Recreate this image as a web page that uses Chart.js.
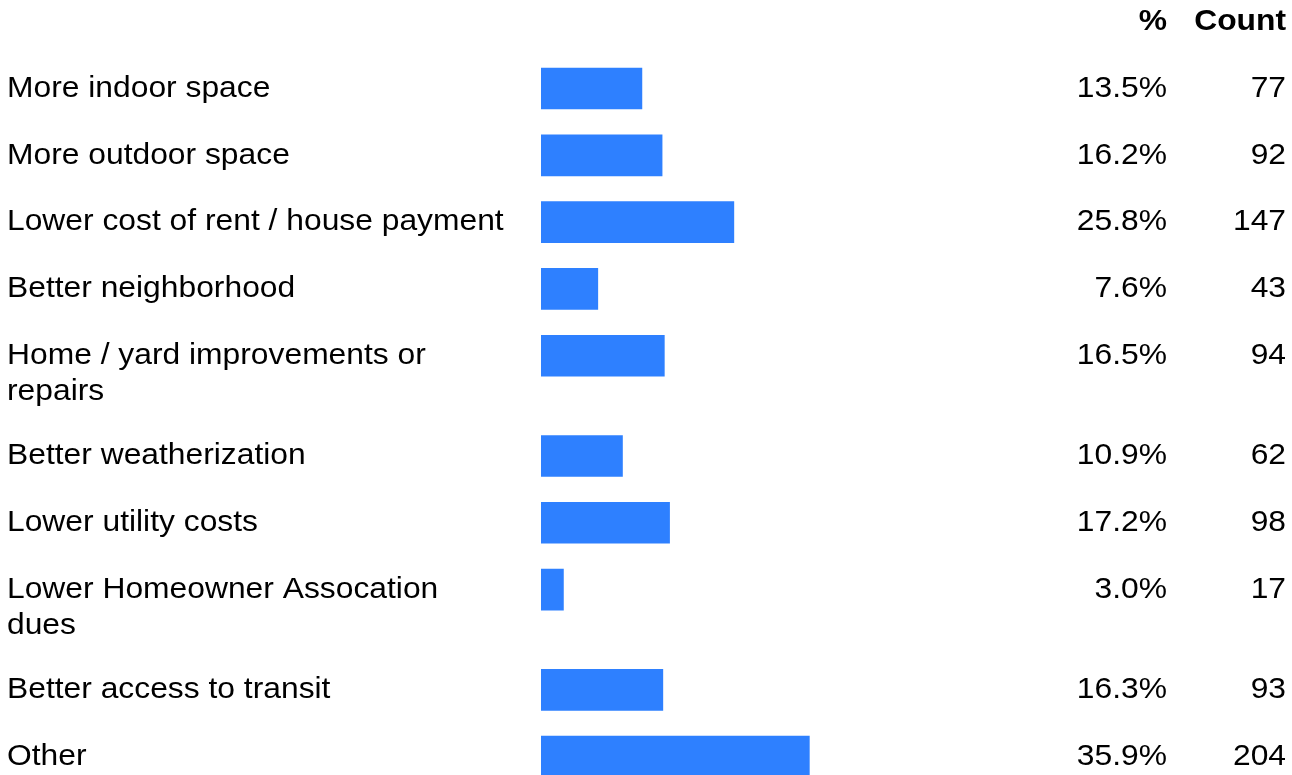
<!DOCTYPE html>
<html>
<head>
<meta charset="utf-8">
<script src="https://cdn.jsdelivr.net/npm/chart.js@4/dist/chart.umd.min.js"></script>
<style>
  html, body { margin: 0; padding: 0; background: #fff; }
  #wrap { width: 1292px; height: 775px; position: relative; }
</style>
</head>
<body>
<div id="wrap"><canvas id="chart"></canvas></div>
<script>
// survey answers, each label split the way it wraps in the picture
let labels = [
    ["More indoor space"],
    ["More outdoor space"],
    ["Lower cost of rent / house payment"],
    ["Better neighborhood"],
    ["Home / yard improvements or", "repairs"],
    ["Better weatherization"],
    ["Lower utility costs"],
    ["Lower Homeowner Assocation", "dues"],
    ["Better access to transit"],
    ["Other"]
];
let percents = [13.5, 16.2, 25.8, 7.6, 16.5, 10.9, 17.2, 3.0, 16.3, 35.9];
let counts = [77, 92, 147, 43, 94, 62, 98, 17, 93, 204];
let headers = ["%", "Count"];

// a row takes one unit per text line plus one unit of gap
let rowPos = [];
let pos = 0;
labels.forEach(lines => {
    rowPos.push(pos);
    pos += lines.length + 1;
});

const FONT = '"Liberation Sans", Arial, sans-serif';
const STRETCH = 1.06;

function drawText(ctx, text, x, y, align) {
    ctx.save();
    ctx.translate(x, y);
    ctx.scale(STRETCH, 1);
    ctx.textAlign = align;
    ctx.fillText(text, 0, 0);
    ctx.restore();
}

const tableText = {
    id: 'tableText',
    afterDatasetsDraw(chart) {
        let ctx = chart.ctx;
        let yScale = chart.scales.y;
        ctx.save();
        ctx.fillStyle = '#000';
        ctx.textBaseline = 'middle';

        ctx.font = 'bold 30px ' + FONT;
        let hy = yScale.getPixelForValue(-2);
        drawText(ctx, headers[0], 1167, hy, 'right');
        drawText(ctx, headers[1], 1286, hy, 'right');

        ctx.font = '30px ' + FONT;
        labels.forEach((lines, i) => {
            let y = yScale.getPixelForValue(rowPos[i]);
            lines.forEach((line, k) => {
                drawText(ctx, line, 7, y + k * 36, 'left');
            });
            drawText(ctx, percents[i].toFixed(1) + '%', 1167, y, 'right');
            drawText(ctx, String(counts[i]), 1286, y, 'right');
        });
        ctx.restore();
    }
};

let ctx = document.getElementById('chart');
let myChart = new Chart(ctx, {
    type: 'bar',
    data: {
        datasets: [{
            data: percents.map((p, i) => ({ x: p, y: rowPos[i] })),
            backgroundColor: '#2e80ff',
            borderWidth: 0,
            barThickness: 41
        }]
    },
    options: {
        indexAxis: 'y',
        responsive: true,
        maintainAspectRatio: false,
        animation: false,
        layout: { padding: { left: 541, right: 452, top: 0, bottom: 0 } },
        plugins: {
            legend: { display: false },
            tooltip: { enabled: false }
        },
        scales: {
            x: { type: 'linear', min: 0, max: 40, display: false },
            y: { type: 'linear', reverse: true, offset: false, min: -2.65, max: 20.55, display: false }
        }
    },
    plugins: [tableText]
});
</script>
</body>
</html>
